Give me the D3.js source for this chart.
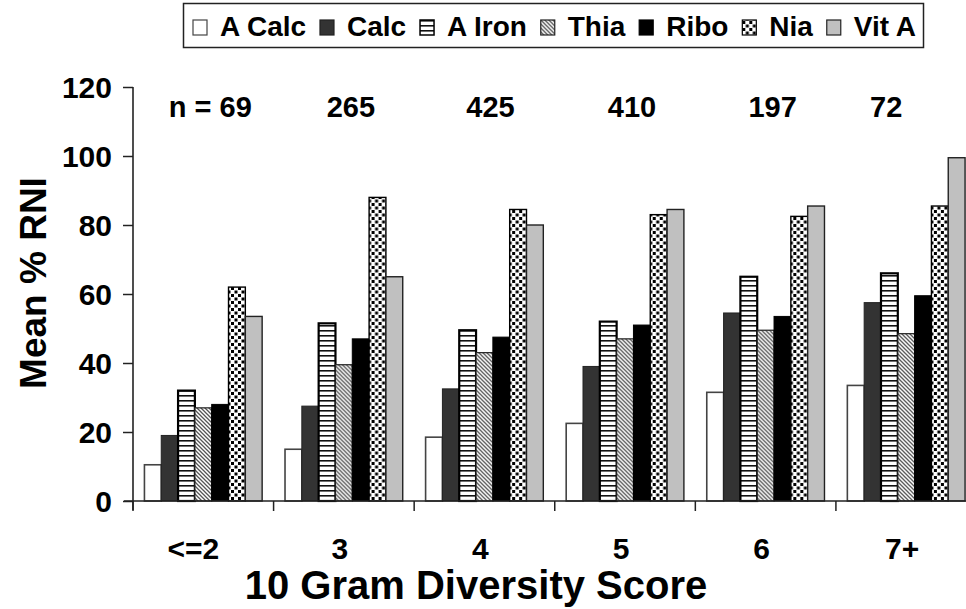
<!DOCTYPE html>
<html><head><meta charset="utf-8">
<script src="https://cdn.jsdelivr.net/npm/d3@7"></script>
<style>
body{margin:0;background:#fff;}
svg{display:block;font-family:"Liberation Sans",Arial,sans-serif;font-weight:bold;}
</style></head>
<body><svg id="c" width="966" height="609"></svg>
<script>
const categories = ["<=2","3","4","5","6","7+"];
const nLabels = ["n = 69","265","425","410","197","72"];
const seriesNames = ["A Calc","Calc","A Iron","Thia","Ribo","Nia","Vit A"];
const aCalc = [10.5,15,18.5,22.5,31.5,33.5];
const calc  = [19,27.5,32.5,39,54.5,57.5];
const aIron = [32,51.5,49.5,52,65,66];
const thia  = [27,39.5,43,47,49.5,48.5];
const ribo  = [28,47,47.5,51,53.5,59.5];
const nia   = [62,88,84.5,83,82.5,85.5];
const vitA  = [53.5,65,80,84.5,85.5,99.5];
const yTicks = [0,20,40,60,80,100,120];
const seriesValues = [aCalc,calc,aIron,thia,ribo,nia,vitA];

const svg = d3.select("#c");
const defs = svg.append("defs");
const pH = defs.append("pattern").attr("id","pH").attr("patternUnits","userSpaceOnUse").attr("width",6).attr("height",5);
pH.append("rect").attr("width",6).attr("height",5).attr("fill","#fff");
pH.append("rect").attr("y",0).attr("width",6).attr("height",1.6).attr("fill","#111");
const pD = defs.append("pattern").attr("id","pD").attr("patternUnits","userSpaceOnUse").attr("width",4).attr("height",4);
pD.append("rect").attr("width",4).attr("height",4).attr("fill","#fff");
pD.append("path").attr("d","M-1,-1L5,5M-1,3L1,5M3,-1L5,1").attr("stroke","#555").attr("stroke-width",1.3);
const pN = defs.append("pattern").attr("id","pN").attr("patternUnits","userSpaceOnUse").attr("width",7).attr("height",7);
pN.append("rect").attr("width",7).attr("height",7).attr("fill","#fff");
pN.append("rect").attr("x",0).attr("y",0).attr("width",3).attr("height",3).attr("fill","#000");
pN.append("rect").attr("x",3.5).attr("y",3.5).attr("width",3).attr("height",3).attr("fill","#000");

const fills = ["#fff","#333","url(#pH)","url(#pD)","#000","url(#pN)","#c0c0c0"];
const strokes = ["#444","#222","#000","#222","#000","#000","#222"];
const sw = [1.6,1,2.2,1.2,1,1.4,1.4];

const x0 = d3.scaleBand().domain(categories).range([133,976.5]).padding(0);
const x1 = d3.scaleBand().domain(seriesNames).range([0,x0.bandwidth()]).paddingInner(0).paddingOuter(0.68);
const y = d3.scaleLinear().domain([0,120]).range([501,87]);

const g = svg.append("g");
categories.forEach((c,i)=>{
  const gg = g.append("g").attr("transform",`translate(${x0(c)},0)`);
  seriesNames.forEach((s,j)=>{
    const v = seriesValues[j][i];
    gg.append("rect").attr("x",x1(s)).attr("y",y(v)).attr("width",x1.bandwidth()).attr("height",y(0)-y(v))
      .attr("fill",fills[j]).attr("stroke",strokes[j]).attr("stroke-width",sw[j]);
  });
});

// y axis
const ya = svg.append("g").attr("transform","translate(133,0)")
  .call(d3.axisLeft(y).tickValues(yTicks).tickSize(10).tickSizeOuter(0).tickPadding(11));
ya.select(".domain").remove();
ya.selectAll("line").attr("stroke","#222").attr("stroke-width",1.5);
ya.selectAll("text").attr("font-size",30).attr("font-weight","bold").attr("fill","#000").attr("font-family","Liberation Sans, Arial, sans-serif").attr("dy","0.36em");
svg.append("line").attr("x1",133).attr("x2",133).attr("y1",y(120)).attr("y2",y(0)+9).attr("stroke","#222").attr("stroke-width",1.6);

// x axis
svg.append("line").attr("x1",124).attr("x2",976).attr("y1",y(0)).attr("y2",y(0)).attr("stroke","#222").attr("stroke-width",1.6);
const bounds = categories.map(c=>x0(c)).concat([x0.range()[1]]);
svg.append("g").selectAll("line").data(bounds).join("line")
  .attr("x1",d=>d).attr("x2",d=>d).attr("y1",y(0)).attr("y2",y(0)+10).attr("stroke","#222").attr("stroke-width",1.5);
const catDx = [-10,-4,-4,-4,-4,-4];
svg.append("g").selectAll("text").data(categories).join("text")
  .attr("x",(d,i)=>x0(d)+x0.bandwidth()/2+catDx[i]).attr("y",559).attr("text-anchor","middle")
  .attr("font-size",30).text(d=>d);

// n labels
const nDx = [7,7,6,7,7,-20];
svg.append("g").selectAll("text").data(nLabels).join("text")
  .attr("x",(d,i)=>x0(categories[i])+x0.bandwidth()/2+nDx[i]).attr("y",117).attr("text-anchor","middle")
  .attr("font-size",29).text(d=>d);

// titles
svg.append("text").attr("x",476).attr("y",599).attr("text-anchor","middle").attr("font-size",40).text("10 Gram Diversity Score");
svg.append("text").attr("transform","translate(46,283) rotate(-90)").attr("text-anchor","middle").attr("font-size",37).text("Mean % RNI");

// legend
const lg = svg.append("g");
lg.append("rect").attr("x",183.5).attr("y",3.5).attr("width",740).attr("height",44).attr("fill","#fff").attr("stroke","#222").attr("stroke-width",1.5);
const items = seriesNames.map((s,j)=>{
  const gi = lg.append("g");
  gi.append("rect").attr("x",0).attr("y",20).attr("width",14).attr("height",15)
    .attr("fill",fills[j]).attr("stroke",strokes[j]).attr("stroke-width",j===2?1.5:1.2);
  const t = gi.append("text").attr("x",27).attr("y",36).attr("font-size",28).text(s);
  return {gi, w: 27 + t.node().getComputedTextLength()};
});
const totalW = d3.sum(items, d=>d.w);
const gap = (916 - 193 - totalW) / (items.length - 1);
let lx = 193;
items.forEach(it=>{ it.gi.attr("transform",`translate(${lx},0)`); lx += it.w + gap; });
</script></body></html>
